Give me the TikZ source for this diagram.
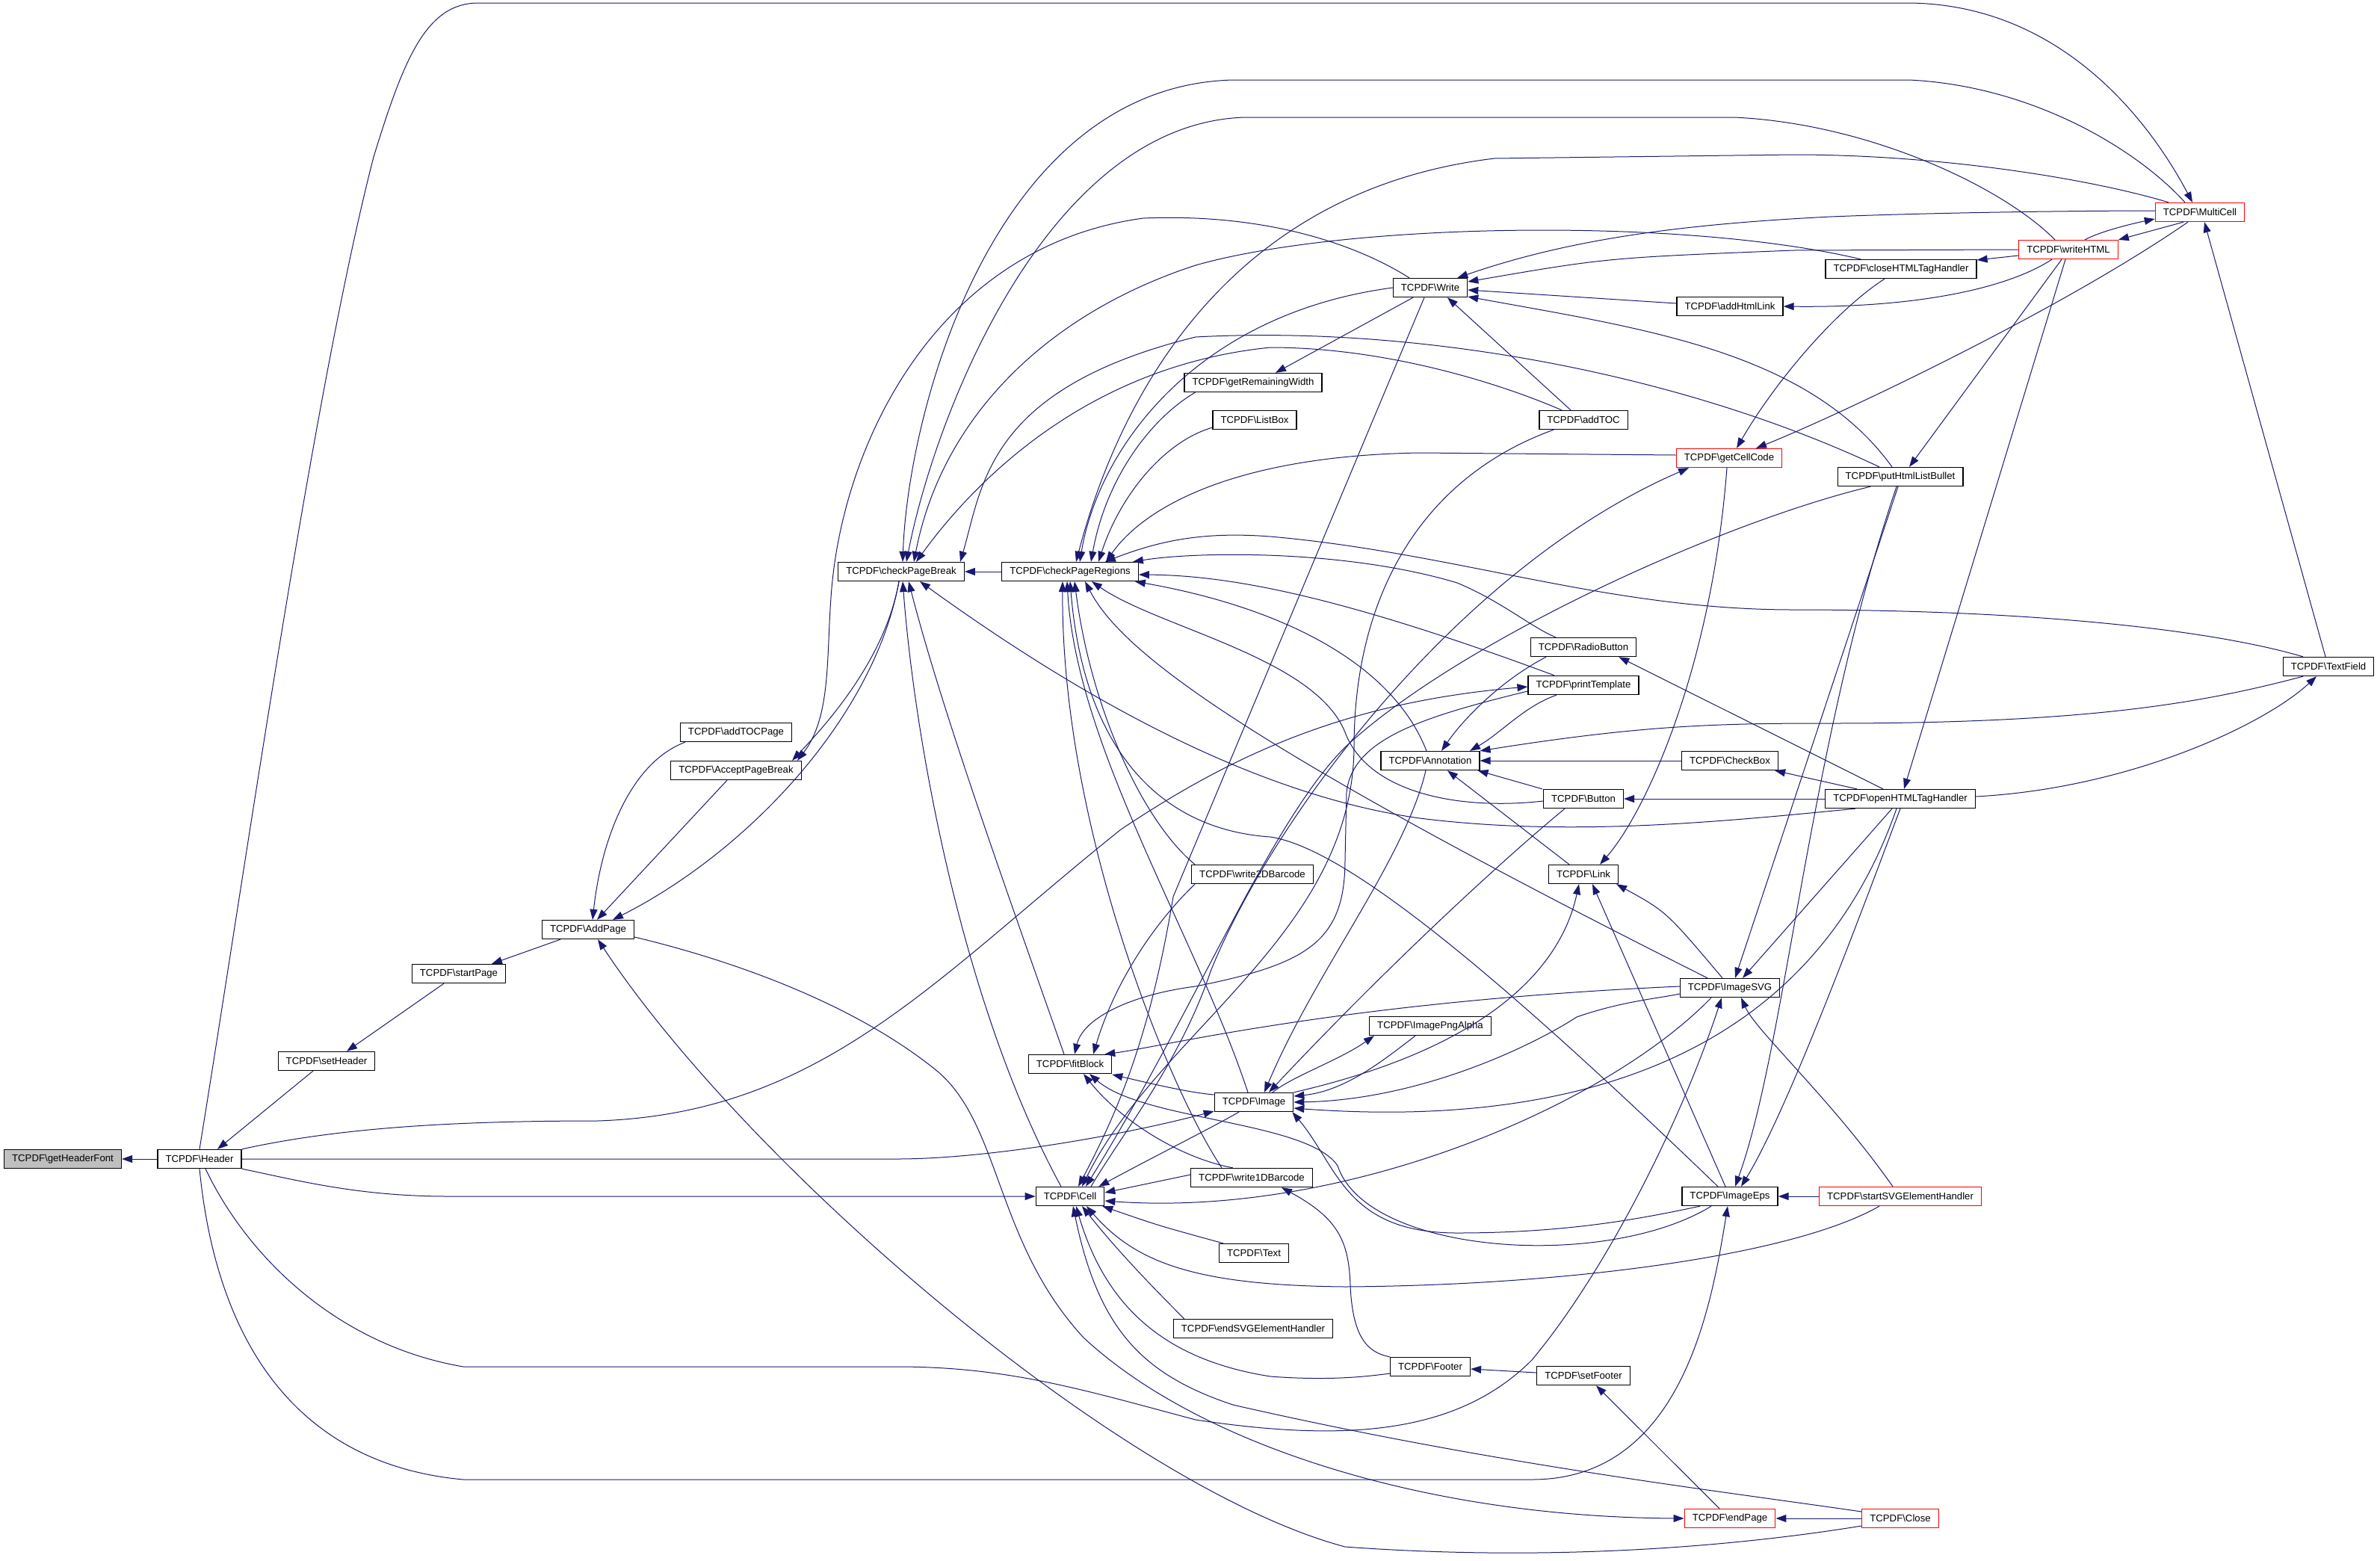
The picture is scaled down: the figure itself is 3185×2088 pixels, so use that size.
\documentclass[tikz,border=0pt]{standalone}
\usepackage{fontspec}
\setmainfont{Liberation Sans}
\usepackage{tikz}
\usetikzlibrary{arrows.meta}
\definecolor{edgeblue}{RGB}{25,25,112}
\definecolor{curgray}{RGB}{191,191,191}
\newcommand{\tcpdf}[1]{TCPDF\textbackslash{}#1}
\tikzset{
  fn/.style={draw=black, line width=1.3pt, fill=white, minimum height=25pt,
    inner xsep=10.5pt, inner ysep=0pt, font=\fontsize{13.2}{15.8}\selectfont},
  fnred/.style={fn, draw=red},
  fncur/.style={fn, fill=curgray},
  calls/.style={draw=edgeblue, line width=1pt, {Triangle[length=14pt,width=10pt]}-},
}

\begin{document}
\begin{tikzpicture}[x=1pt, y=-1pt]
    \useasboundingbox (0,0) rectangle (3185,2088);

    % Functions, column by column
    \node[fncur] (getHeaderFont) at (84,1551) {\tcpdf{getHeaderFont}};
    \node[fn] (Header) at (267,1551) {\tcpdf{Header}};
    \node[fn] (setHeader) at (437,1420) {\tcpdf{setHeader}};
    \node[fn] (startPage) at (614,1303) {\tcpdf{startPage}};
    \node[fn] (AddPage) at (787,1244) {\tcpdf{AddPage}};
    \node[fn] (addTOCPage) at (985,980) {\tcpdf{addTOCPage}};
    \node[fn] (AcceptPageBreak) at (985,1031) {\tcpdf{AcceptPageBreak}};
    \node[fn] (checkPageBreak) at (1206,765) {\tcpdf{checkPageBreak}};
    \node[fn] (checkPageRegions) at (1432,765) {\tcpdf{checkPageRegions}};
    \node[fn] (fitBlock) at (1432,1424) {\tcpdf{fitBlock}};
    \node[fn] (Cell) at (1432,1601) {\tcpdf{Cell}};
    \node[fn] (getRemainingWidth) at (1677,512) {\tcpdf{getRemainingWidth}};
    \node[fn] (ListBox) at (1679,562) {\tcpdf{ListBox}};
    \node[fn] (write2DBarcode) at (1676,1170) {\tcpdf{write2DBarcode}};
    \node[fn] (Image) at (1678,1475) {\tcpdf{Image}};
    \node[fn] (write1DBarcode) at (1675,1576) {\tcpdf{write1DBarcode}};
    \node[fn] (Text) at (1678,1677) {\tcpdf{Text}};
    \node[fn] (endSVGElementHandler) at (1677,1778) {\tcpdf{endSVGElementHandler}};
    \node[fn] (Write) at (1914,385) {\tcpdf{Write}};
    \node[fn] (Annotation) at (1914,1018) {\tcpdf{Annotation}};
    \node[fn] (ImagePngAlpha) at (1914,1373) {\tcpdf{ImagePngAlpha}};
    \node[fn] (Footer) at (1914,1829) {\tcpdf{Footer}};
    \node[fn] (addTOC) at (2119,562) {\tcpdf{addTOC}};
    \node[fn] (RadioButton) at (2119,866) {\tcpdf{RadioButton}};
    \node[fn] (printTemplate) at (2119,917) {\tcpdf{printTemplate}};
    \node[fn] (Button) at (2119,1069) {\tcpdf{Button}};
    \node[fn] (Link) at (2119,1170) {\tcpdf{Link}};
    \node[fn] (setFooter) at (2119,1841) {\tcpdf{setFooter}};
    \node[fn] (addHtmlLink) at (2315,410) {\tcpdf{addHtmlLink}};
    \node[fnred] (getCellCode) at (2314,613) {\tcpdf{getCellCode}};
    \node[fn] (CheckBox) at (2315,1018) {\tcpdf{CheckBox}};
    \node[fn] (ImageSVG) at (2315,1322) {\tcpdf{ImageSVG}};
    \node[fn] (ImageEps) at (2315,1601) {\tcpdf{ImageEps}};
    \node[fnred] (endPage) at (2315,2032) {\tcpdf{endPage}};
    \node[fn] (closeHTMLTagHandler) at (2544,360) {\tcpdf{closeHTMLTagHandler}};
    \node[fn] (putHtmlListBullet) at (2543,638) {\tcpdf{putHtmlListBullet}};
    \node[fn] (openHTMLTagHandler) at (2543,1069) {\tcpdf{openHTMLTagHandler}};
    \node[fnred] (startSVGElementHandler) at (2543,1601) {\tcpdf{startSVGElementHandler}};
    \node[fnred] (Close) at (2543,2032) {\tcpdf{Close}};
    \node[fnred] (writeHTML) at (2768,334) {\tcpdf{writeHTML}};
    \node[fnred] (MultiCell) at (2944,284) {\tcpdf{MultiCell}};
    \node[fn] (TextField) at (3116,892) {\tcpdf{TextField}};

    % Header chain
    \draw[calls] (getHeaderFont.east) -- (Header.west);
    \draw[calls] ([xshift=24pt]Header.north) -- ([xshift=-18pt]setHeader.south);
    \draw[calls] ([xshift=27pt]setHeader.north) -- ([xshift=-20pt]startPage.south);
    \draw[calls] ([xshift=44pt]startPage.north) -- ([xshift=-37pt]AddPage.south);

    % AddPage callers
    \draw[calls] ([xshift=6pt]AddPage.north) .. controls (805,1120) and (845,1020) .. ([xshift=-68pt]addTOCPage.south);
    \draw[calls] ([xshift=12pt]AddPage.north) -- ([xshift=-12pt]AcceptPageBreak.south);
    \draw[calls] ([xshift=33pt]AddPage.north) .. controls (1000,1140) and (1170,960) .. ([xshift=-3pt]checkPageBreak.south);
    \draw[calls] ([xshift=13pt]AddPage.south) .. controls (1000,1560) and (1500,1990) .. (1800,2070)
        .. controls (2100,2092) and (2350,2065) .. ([yshift=-10pt]Close.west);

    % AcceptPageBreak callers
    \draw[calls] ([xshift=75pt]AcceptPageBreak.north) .. controls (1110,965) and (1185,880) .. ([xshift=-3pt]checkPageBreak.south);
    \draw[calls] ([xshift=82pt]AcceptPageBreak.north) .. controls (1112,960) and (1106,880) .. (1112,800)
        .. controls (1125,600) and (1250,330) .. (1530,292) .. controls (1700,285) and (1820,330) .. ([xshift=-28pt]Write.north);

    % checkPageBreak callers
    \draw[calls] (checkPageBreak.east) -- (checkPageRegions.west);
    \draw[calls] ([xshift=2pt]checkPageBreak.north) .. controls (1215,550) and (1330,115) .. (1650,107) -- (2555,107)
        .. controls (2720,115) and (2860,200) .. ([xshift=-20pt]MultiCell.north);
    \draw[calls] ([xshift=7pt]checkPageBreak.north) .. controls (1250,560) and (1400,165) .. (1666,157) -- (2320,157)
        .. controls (2500,165) and (2680,250) .. ([xshift=-18pt]writeHTML.north);
    \draw[calls] ([xshift=17pt]checkPageBreak.north) .. controls (1260,560) and (1400,420) .. (1600,355)
        .. controls (1800,298) and (2250,290) .. ([xshift=-54pt]closeHTMLTagHandler.north);
    \draw[calls] ([xshift=20pt]checkPageBreak.north) .. controls (1300,650) and (1450,490) .. (1700,465)
        .. controls (1850,465) and (2000,510) .. ([xshift=-29pt]addTOC.north);
    \draw[calls] ([xshift=79pt]checkPageBreak.north) .. controls (1315,650) and (1320,520) .. (1600,451)
        .. controls (1900,435) and (2250,500) .. ([xshift=-28pt]putHtmlListBullet.north);
    \draw[calls] ([xshift=25pt]checkPageBreak.south) .. controls (1400,900) and (1650,1060) .. (1900,1095)
        .. controls (2100,1120) and (2300,1100) .. ([xshift=-60pt]openHTMLTagHandler.south);
    \draw[calls] ([xshift=2pt]checkPageBreak.south) .. controls (1225,1000) and (1290,1350) .. ([xshift=-12pt]Cell.north);
    \draw[calls] ([xshift=10pt]checkPageBreak.south) .. controls (1260,950) and (1350,1200) .. ([xshift=-8pt]fitBlock.north);

    % checkPageRegions callers, top side
    \draw[calls] ([xshift=8pt]checkPageRegions.north) .. controls (1480,600) and (1600,260) .. (2000,212) -- (2400,207)
        .. controls (2600,207) and (2800,240) .. ([xshift=-42pt]MultiCell.north);
    \draw[calls] ([xshift=13pt]checkPageRegions.north) .. controls (1470,600) and (1600,420) .. (Write.west);
    \draw[calls] ([xshift=28pt]checkPageRegions.north) .. controls (1480,640) and (1540,560) .. ([xshift=15pt]getRemainingWidth.south west);
    \draw[calls] ([xshift=38pt]checkPageRegions.north) .. controls (1500,660) and (1560,590) .. ([yshift=3pt]ListBox.south west);
    \draw[calls] ([xshift=48pt]checkPageRegions.north) .. controls (1530,680) and (1650,610) .. (1900,606) -- ([yshift=4pt]getCellCode.west);

    % checkPageRegions callers, right side
    \draw[calls] ([xshift=-45pt]checkPageRegions.north east) .. controls (1560,720) and (1620,712) .. (1700,718)
        .. controls (1950,740) and (2150,816) .. (2400,816) .. controls (2700,816) and (2950,840) .. ([xshift=-34pt]TextField.north);
    \draw[calls] ([xshift=-8pt]checkPageRegions.north east) .. controls (1600,738) and (1800,735) .. (1950,780)
        .. controls (2010,805) and (2050,840) .. ([xshift=-37pt]RadioButton.north);
    \draw[calls] ([yshift=-4pt]checkPageRegions.east) .. controls (1650,770) and (1800,800) .. ([xshift=-39pt]printTemplate.north);
    \draw[calls] ([xshift=-5pt]checkPageRegions.south east) .. controls (1700,810) and (1860,880) .. ([xshift=-5pt]Annotation.north);
    \draw[calls] ([xshift=29pt]checkPageRegions.south) .. controls (1550,840) and (1760,880) .. (1800,980)
        .. controls (1830,1060) and (1950,1085) .. ([yshift=-3pt]Button.west);

    % checkPageRegions callers, bottom side
    \draw[calls] ([xshift=20pt]checkPageRegions.south) .. controls (1500,870) and (1650,990) .. ([xshift=-30pt]ImageSVG.north);
    \draw[calls] (checkPageRegions.south) .. controls (1450,1000) and (1550,1110) .. (1700,1120)
        .. controls (1800,1135) and (2000,1300) .. ([xshift=-16pt]ImageEps.north);
    \draw[calls] ([xshift=6pt]checkPageRegions.south) .. controls (1460,950) and (1530,1100) .. ([xshift=5pt]write2DBarcode.north west);
    \draw[calls] ([xshift=-4pt]checkPageRegions.south) .. controls (1440,1000) and (1600,1250) .. ([xshift=-8pt]Image.north);
    \draw[calls] ([xshift=-10pt]checkPageRegions.south) .. controls (1420,1100) and (1560,1450) .. ([xshift=-40pt]write1DBarcode.north);

    % Header callees
    \draw[calls] ([xshift=-10pt]MultiCell.north) .. controls (2870,150) and (2750,6) .. (2555,4) -- (640,4)
        .. controls (570,4) and (540,80) .. (500,210) .. controls (420,520) and (330,1150) .. (Header.north);
    \draw[calls] ([yshift=-2pt]printTemplate.west) .. controls (1800,940) and (1650,1010) .. (1500,1110)
        .. controls (1250,1310) and (1100,1490) .. (800,1500) .. controls (600,1500) and (450,1510) .. (Header.north east);
    \draw[calls] ([yshift=-12pt]Image.west) .. controls (1500,1520) and (1320,1551) .. (1200,1551) -- (Header.east);
    \draw[calls] (Cell.west) -- (600,1601) .. controls (480,1601) and (400,1580) .. (Header.south east);
    \draw[calls] ([xshift=-11pt]ImageSVG.south) .. controls (2250,1500) and (2150,1700) .. (2050,1820)
        .. controls (1950,1920) and (1800,1930) .. (1600,1900) .. controls (1450,1860) and (1350,1829) .. (1200,1829)
        -- (620,1829) .. controls (450,1800) and (330,1680) .. ([xshift=8pt]Header.south);
    \draw[calls] ([xshift=-3pt]ImageEps.south) .. controls (2290,1750) and (2250,1980) .. (2050,1980) -- (620,1980)
        .. controls (400,1960) and (290,1800) .. (Header.south);

    % MultiCell and writeHTML
    \draw[calls] ([yshift=-9pt]MultiCell.west) .. controls (2850,300) and (2810,310) .. ([xshift=22pt]writeHTML.north);
    \draw[calls] (writeHTML.north east) -- ([xshift=-22pt]MultiCell.south);
    \draw[calls] ([xshift=6pt]MultiCell.south) -- ([xshift=-4pt]TextField.north);
    \draw[calls] ([xshift=-14pt]Write.north east) .. controls (2100,320) and (2250,300) .. (2450,290)
        .. controls (2600,284) and (2800,282) .. ([yshift=2pt]MultiCell.west);
    \draw[calls] ([yshift=8pt]Write.east) .. controls (2150,345) .. (2400,335) -- (writeHTML.west);
    \draw[calls] ([yshift=-3pt]Write.east) -- ([yshift=4pt]addHtmlLink.west);
    \draw[calls] ([yshift=-12pt]Write.east) .. controls (2200,440) and (2420,470) .. ([xshift=-11pt]putHtmlListBullet.north);
    \draw[calls] ([xshift=23pt]Write.south) -- ([xshift=-17pt]addTOC.north);
    \draw[calls] ([xshift=11pt]Cell.north) .. controls (1500,1480) and (1540,1380) .. (1570,1200) -- ([xshift=-8pt]Write.south);
    \draw[calls] ([xshift=30pt]getRemainingWidth.north) -- ([xshift=-23pt]Write.south);
    \draw[calls] ([yshift=12pt]closeHTMLTagHandler.east) -- ([yshift=-8pt]writeHTML.west);
    \draw[calls] (addHtmlLink.east) .. controls (2550,412) and (2680,390) .. ([xshift=-22pt]writeHTML.south);
    \draw[calls] ([xshift=12pt]putHtmlListBullet.north) -- ([xshift=-9pt]writeHTML.south);
    \draw[calls] ([xshift=5pt]openHTMLTagHandler.north) -- ([xshift=-4pt]writeHTML.south);

    % getCellCode and Link
    \draw[calls] ([xshift=10pt]getCellCode.north) .. controls (2370,520) and (2450,420) .. ([xshift=-22pt]closeHTMLTagHandler.south);
    \draw[calls] ([xshift=36pt]getCellCode.north) .. controls (2450,560) and (2750,420) .. ([xshift=-16pt]MultiCell.south);
    \draw[calls] ([xshift=-54pt]getCellCode.south) .. controls (1950,760) and (1700,1100) .. (1620,1300)
        .. controls (1580,1420) and (1500,1520) .. ([xshift=28pt]Cell.north);
    \draw[calls] ([xshift=22pt]Link.north) .. controls (2200,1090) and (2290,900) .. ([xshift=-3pt]getCellCode.south);
    \draw[calls] ([xshift=-6pt]Link.south) .. controls (2090,1290) and (2000,1400) .. (Image.north east);
    \draw[calls] ([xshift=12pt]Link.south) -- ([xshift=-6pt]ImageEps.north);
    \draw[calls] ([xshift=-3pt]Link.south east) .. controls (2230,1220) .. ([xshift=-10pt]ImageSVG.north);

    % Annotation and form fields
    \draw[calls] ([xshift=23pt]Annotation.south) -- ([xshift=-19pt]Link.north);
    \draw[calls] ([xshift=15pt]Annotation.north) .. controls (1960,960) and (2010,910) .. ([xshift=-50pt]RadioButton.south);
    \draw[calls] ([xshift=53pt]Annotation.north) .. controls (2010,980) and (2040,945) .. ([xshift=-36pt]printTemplate.south);
    \draw[calls] (Annotation.north east) .. controls (2200,970) and (2300,968) .. (2450,968)
        .. controls (2800,968) and (2950,940) .. ([xshift=-34pt]TextField.south);
    \draw[calls] (Annotation.east) -- (CheckBox.west);
    \draw[calls] ([xshift=-3pt]Annotation.south east) -- ([xshift=-55pt]Button.north);
    \draw[calls] (Button.east) -- (openHTMLTagHandler.west);
    \draw[calls] ([xshift=-5pt]CheckBox.south east) -- ([xshift=-58pt]openHTMLTagHandler.north);
    \draw[calls] ([xshift=-24pt]RadioButton.south east) -- ([xshift=-23pt]openHTMLTagHandler.north);
    \draw[calls] ([xshift=-16pt]TextField.south) .. controls (3030,970) and (2850,1055) .. ([yshift=3pt]openHTMLTagHandler.east);

    % ImageSVG and ImageEps
    \draw[calls] ([xshift=17pt]ImageSVG.north) -- ([xshift=-11pt]openHTMLTagHandler.south);
    \draw[calls] ([xshift=7pt]ImageSVG.north) -- ([xshift=-3pt]putHtmlListBullet.south);
    \draw[calls] ([xshift=7pt]ImageEps.north) .. controls (2390,1400) and (2420,1000) .. ([xshift=-5pt]putHtmlListBullet.south);
    \draw[calls] ([xshift=15pt]ImageEps.north) .. controls (2390,1490) and (2480,1250) .. (openHTMLTagHandler.south);
    \draw[calls] ([xshift=15pt]ImageSVG.south) .. controls (2350,1380) and (2450,1470) .. ([xshift=-10pt]startSVGElementHandler.north);
    \draw[calls] (ImageEps.east) -- (startSVGElementHandler.west);

    % Image
    \draw[calls] ([yshift=-8pt]Image.east) .. controls (2100,1510) and (2420,1420) .. ([xshift=-5pt]openHTMLTagHandler.south);
    \draw[calls] (Image.east) .. controls (1900,1472) and (2050,1400) .. (2110,1361)
        .. controls (2170,1340) and (2220,1336) .. ([yshift=-8pt]ImageSVG.west);
    \draw[calls] ([xshift=-2pt]Image.south east) .. controls (1790,1560) and (1800,1650) .. (1950,1650)
        .. controls (2100,1650) and (2200,1630) .. ([xshift=-40pt]ImageEps.south);
    \draw[calls] ([yshift=8pt]Image.east) .. controls (1800,1460) and (1850,1420) .. ([xshift=-20pt]ImagePngAlpha.south);
    \draw[calls] ([xshift=-75pt]ImagePngAlpha.south) .. controls (1790,1420) and (1730,1440) .. ([xshift=25pt]Image.north);
    \draw[calls] ([xshift=14pt]Image.north) .. controls (1760,1300) and (1880,1150) .. ([xshift=-6pt]Annotation.south);
    \draw[calls] ([xshift=20pt]Image.north) .. controls (1850,1300) and (2000,1160) .. ([xshift=-25pt]Button.south);

    % fitBlock
    \draw[calls] ([yshift=-14pt]fitBlock.east) .. controls (1540,1450) and (1590,1462) .. ([yshift=10pt]Image.west);
    \draw[calls] ([xshift=-10pt]fitBlock.north east) .. controls (1560,1400) and (1800,1340) .. ([yshift=2pt]ImageSVG.west);
    \draw[calls] ([xshift=26pt]fitBlock.south) .. controls (1530,1500) and (1750,1500) .. (1790,1560)
        .. controls (1830,1680) and (2150,1700) .. ([xshift=-25pt]ImageEps.south);
    \draw[calls] ([xshift=31pt]fitBlock.north) .. controls (1490,1320) and (1540,1240) .. ([xshift=5pt]write2DBarcode.south west);
    \draw[calls] ([xshift=18pt]fitBlock.south) .. controls (1500,1500) and (1580,1550) .. ([xshift=-25pt]write1DBarcode.north);
    \draw[calls] ([xshift=6pt]fitBlock.north) .. controls (1450,1360) and (1520,1330) .. (1600,1320)
        .. controls (1750,1290) and (1800,1260) .. (1800,1150) -- (1802,1060)
        .. controls (1810,990) and (1900,960) .. ([yshift=-8pt]printTemplate.west);

    % Cell
    \draw[calls] ([xshift=-8pt]Cell.north east) .. controls (1540,1550) and (1620,1510) .. ([xshift=-20pt]Image.south);
    \draw[calls] ([xshift=16pt]Cell.north) .. controls (1550,1380) and (1810,1250) .. (1812,1000)
        .. controls (1812,800) and (1900,640) .. ([xshift=-40pt]addTOC.south);
    \draw[calls] ([xshift=21pt]Cell.north) .. controls (1600,1350) and (1700,1100) .. (1800,1000)
        .. controls (1950,860) and (2300,700) .. ([xshift=-40pt]putHtmlListBullet.south);
    \draw[calls] ([yshift=5pt]Cell.east) -- ([yshift=4pt]write1DBarcode.west);
    \draw[calls] ([yshift=-6pt]Cell.east) .. controls (1800,1630) and (2150,1480) .. ([xshift=-25pt]ImageSVG.south);
    \draw[calls] ([xshift=-3pt]Cell.south east) .. controls (1550,1640) .. ([xshift=6pt]Text.north west);
    \draw[calls] ([xshift=16pt]Cell.south) .. controls (1500,1680) and (1560,1740) .. ([xshift=15pt]endSVGElementHandler.north west);
    \draw[calls] ([xshift=22pt]Cell.south) .. controls (1520,1690) and (1600,1720) .. (1800,1722)
        .. controls (2100,1720) and (2400,1680) .. ([xshift=-28pt]startSVGElementHandler.south);
    \draw[calls] ([xshift=8pt]Cell.south) .. controls (1480,1750) and (1560,1820) .. (1700,1842)
        .. controls (1780,1848) and (1830,1842) .. ([yshift=-9pt]Footer.west);
    \draw[calls] ([xshift=4pt]Cell.south) .. controls (1470,1780) and (1530,1840) .. (1650,1880)
        .. controls (2000,1960) and (2300,1995) .. ([yshift=9pt]Close.west);

    % Footer and endPage
    \draw[calls] ([xshift=40pt]write1DBarcode.south) .. controls (1790,1630) and (1805,1660) .. (1807,1720)
        .. controls (1810,1790) and (1830,1810) .. (Footer.north west);
    \draw[calls] ([yshift=-3pt]Footer.east) -- ([yshift=4pt]setFooter.west);
    \draw[calls] ([xshift=17pt]setFooter.south) -- ([xshift=-14pt]endPage.north);
    \draw[calls] (endPage.east) -- (Close.west);
    \draw[calls] (endPage.west) .. controls (1900,2030) and (1600,1930) .. (1450,1790)
        .. controls (1330,1660) and (1340,1500) .. (1250,1430) .. controls (1150,1350) and (1000,1290) .. ([yshift=-10pt]AddPage.east);
\end{tikzpicture}
\end{document}
